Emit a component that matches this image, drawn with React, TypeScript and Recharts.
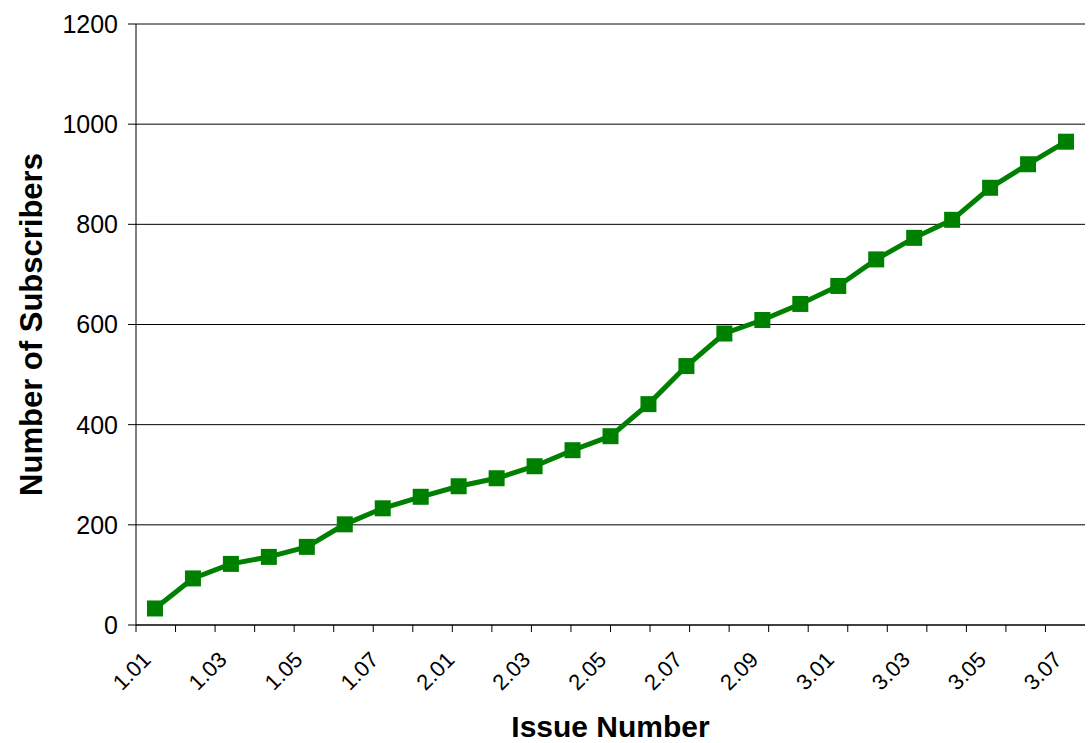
import { LineChart, Line, XAxis, YAxis, CartesianGrid, ReferenceLine } from "recharts";

// ── Data ─────────────────────────────────────────────────

const ISSUES = [
  "1.01", "1.02", "1.03", "1.04", "1.05", "1.06", "1.07", "1.08",
  "2.01", "2.02", "2.03", "2.04", "2.05", "2.06", "2.07", "2.08", "2.09", "2.10",
  "3.01", "3.02", "3.03", "3.04", "3.05", "3.06", "3.07",
];

const SUBSCRIBERS = [
  33, 93, 122, 136, 156, 201, 233, 256,
  277, 293, 317, 349, 377, 441, 517, 582, 609, 641,
  677, 730, 773, 809, 873, 920, 965,
];

const Y_TICKS = [0, 200, 400, 600, 800, 1000, 1200];

// category boundaries (Excel puts tick marks between categories)
const BOUNDARIES = ISSUES.map((_, i) => i).concat(ISSUES.length);

const data = ISSUES.map((issue, i) => ({ issue, subscribers: SUBSCRIBERS[i] }));

// ── Layout ───────────────────────────────────────────────

const W = 1091;
const H = 743;
const Y_AXIS_W = 136;
const MARGIN = { top: 24, right: 6, bottom: 0, left: 0 };
const PLOT_W = W - Y_AXIS_W - MARGIN.left - MARGIN.right;
const HALF_BAND = PLOT_W / ISSUES.length / 2;

const FONT = '"Liberation Sans", Arial, Helvetica, sans-serif';
const GREEN = "#008000";

function IssueTick({ x, y, payload }: any) {
  return (
    <g transform={`translate(${x - 14},${y})`}>
      <text
        transform="rotate(-45)"
        textAnchor="end"
        dy="0.72em"
        fontSize={22}
        fill="#000"
        fontFamily={FONT}
      >
        {payload.value}
      </text>
    </g>
  );
}

function SquareDot({ cx, cy, index }: any) {
  return <rect key={`d${index}`} x={cx - 8} y={cy - 8} width={16} height={16} fill={GREEN} />;
}

export default function App() {
  return (
    <div style={{ position: "absolute", left: 0, top: 0, background: "#fff" }}>
      <LineChart width={W} height={H} data={data} margin={MARGIN} style={{ fontFamily: FONT }}>
        <CartesianGrid xAxisId="b" vertical={false} stroke="#000" />
        <XAxis
          xAxisId="b"
          dataKey="issue"
          interval={1}
          tick={<IssueTick />}
          tickLine={false}
          axisLine={false}
          tickSize={0}
          tickMargin={17}
          height={110}
          padding={{ left: HALF_BAND, right: HALF_BAND }}
          label={{
            content: ({ viewBox }: any) => (
              <text
                x={viewBox.x + viewBox.width / 2}
                y={viewBox.y + viewBox.height - 6}
                textAnchor="middle"
                fontSize={30}
                fontWeight="bold"
                fill="#000"
                fontFamily={FONT}
              >
                Issue Number
              </text>
            ),
          }}
        />
        <XAxis
          xAxisId="a"
          type="number"
          domain={[0, ISSUES.length]}
          ticks={BOUNDARIES}
          tick={() => <g />}
          tickSize={7}
          height={8}
          stroke="#000"
          allowDataOverflow
        />
        <YAxis
          domain={[0, 1200]}
          ticks={Y_TICKS}
          interval={0}
          width={Y_AXIS_W}
          tickSize={8}
          tickMargin={10}
          tick={{ fill: "#000", fontSize: 25 }}
          stroke="#000"
          label={{
            content: ({ viewBox }: any) => {
              const cx = viewBox.x + 31;
              const cy = viewBox.y + viewBox.height / 2;
              return (
                <text
                  x={cx}
                  y={cy}
                  transform={`rotate(-90, ${cx}, ${cy})`}
                  textAnchor="middle"
                  dominantBaseline="central"
                  fontSize={31}
                  fontWeight="bold"
                  fill="#000"
                  fontFamily={FONT}
                >
                  Number of Subscribers
                </text>
              );
            },
          }}
        />
        <ReferenceLine xAxisId="b" y={1200} stroke="#888" />
        <ReferenceLine xAxisId="a" x={ISSUES.length} stroke="#888" />
        <Line
          xAxisId="b"
          dataKey="subscribers"
          stroke={GREEN}
          strokeWidth={5}
          dot={SquareDot}
          activeDot={false}
          isAnimationActive={false}
        />
      </LineChart>
    </div>
  );
}
